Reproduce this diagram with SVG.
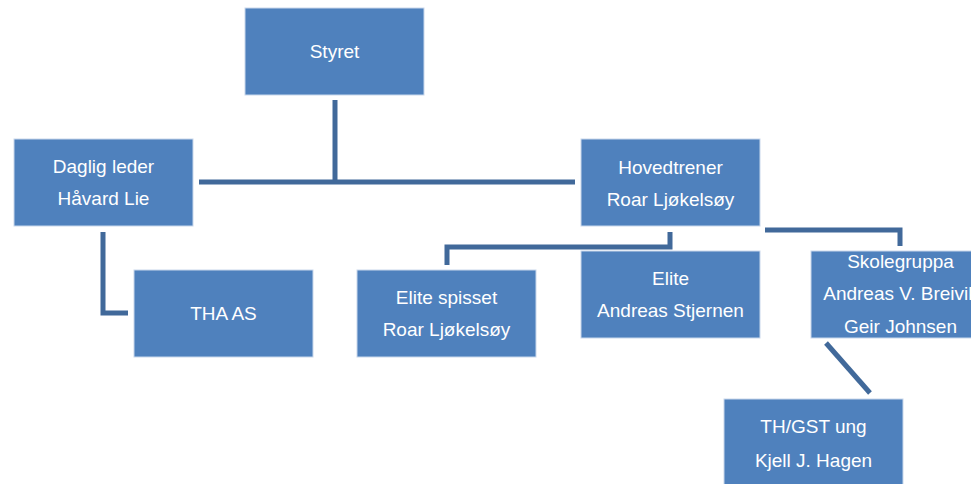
<svg xmlns="http://www.w3.org/2000/svg" width="971" height="484" viewBox="0 0 971 484">
<style>
.box{fill:#4f81bd;stroke:#c9d8ec;stroke-width:1}
.t{fill:#ffffff;font-family:"Liberation Sans",Arial,sans-serif;font-size:19px;text-anchor:middle}
.c{fill:none;stroke:#41699a;stroke-width:5;stroke-linejoin:miter}
</style>
<rect width="971" height="484" fill="#ffffff"/>
<g id="connectors">
<path class="c" d="M335 100 V183"/>
<path class="c" d="M199 182 H575"/>
<path class="c" d="M103 232 V313 H128"/>
<path class="c" d="M670 232 V247 H447 V265"/>
<path class="c" d="M765 230 H900 V246"/>
<path class="c" d="M826 343 L870 393"/>
</g>
<g id="styret">
<rect class="box" x="245" y="8" width="179" height="87"/>
<text class="t" x="334.5" y="58">Styret</text>
</g>
<g id="daglig-leder">
<rect class="box" x="14" y="139" width="179" height="87"/>
<text class="t" x="103.5" y="173">Daglig leder</text>
<text class="t" x="103.5" y="205">Håvard Lie</text>
</g>
<g id="hovedtrener">
<rect class="box" x="581" y="139" width="179" height="87"/>
<text class="t" x="670.5" y="174">Hovedtrener</text>
<text class="t" x="670.5" y="206">Roar Ljøkelsøy</text>
</g>
<g id="tha-as">
<rect class="box" x="134" y="270" width="179" height="87"/>
<text class="t" x="223.5" y="320">THA AS</text>
</g>
<g id="elite-spisset">
<rect class="box" x="357" y="270" width="179" height="87"/>
<text class="t" x="446.5" y="304">Elite spisset</text>
<text class="t" x="446.5" y="336">Roar Ljøkelsøy</text>
</g>
<g id="elite">
<rect class="box" x="581" y="251" width="179" height="87"/>
<text class="t" x="670.5" y="285">Elite</text>
<text class="t" x="670.5" y="317">Andreas Stjernen</text>
</g>
<g id="skolegruppa">
<rect class="box" x="811" y="251" width="179" height="87"/>
<text class="t" x="900.5" y="268">Skolegruppa</text>
<text class="t" x="900.5" y="300">Andreas V. Breivik</text>
<text class="t" x="900.5" y="333">Geir Johnsen</text>
</g>
<g id="th-gst-ung">
<rect class="box" x="724" y="399" width="179" height="87"/>
<text class="t" x="813.5" y="433">TH/GST ung</text>
<text class="t" x="813.5" y="467">Kjell J. Hagen</text>
</g>
</svg>
